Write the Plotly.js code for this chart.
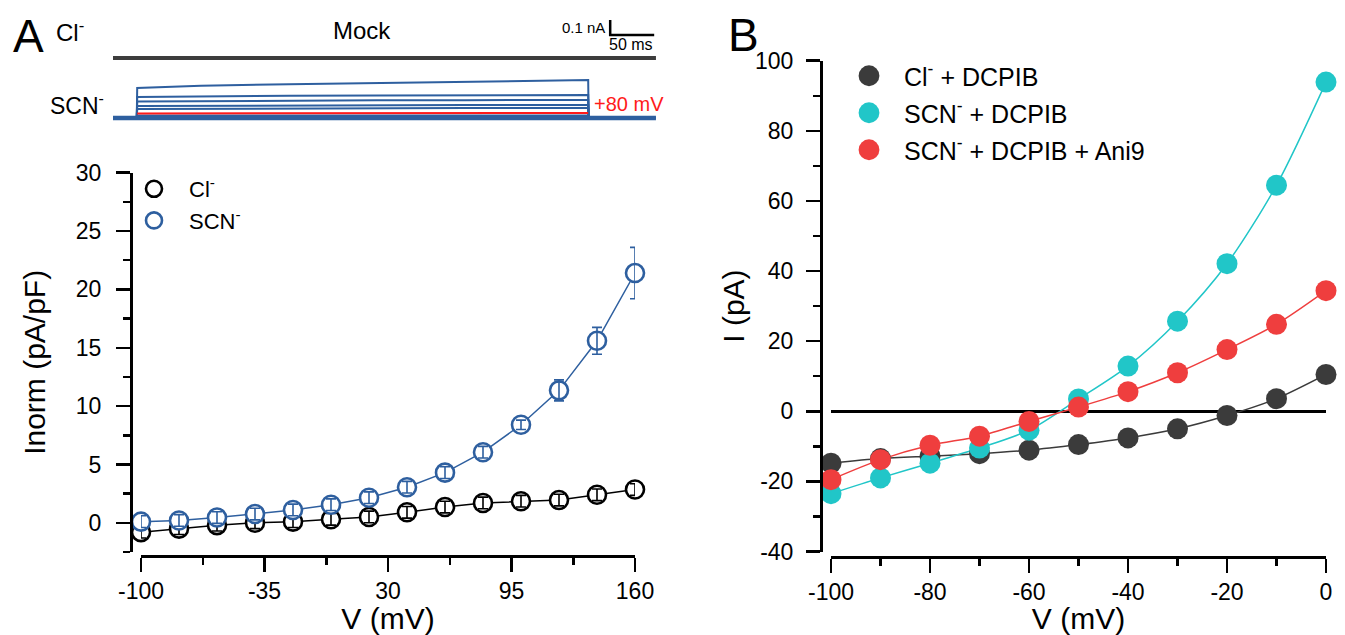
<!DOCTYPE html>
<html>
<head>
<meta charset="utf-8">
<script src="https://cdn.plot.ly/plotly-3.0.1.min.js"></script>
<style>html,body{margin:0;padding:0;background:#fff;}#chart{width:1345px;height:635px;}</style>
</head>
<body>
<div id="chart"></div>
<script>
// ---------- Panel A: I-V (normalized) ----------
const aVoltage = [-100, -80, -60, -40, -20, 0, 20, 40, 60, 80, 100, 120, 140, 160];
const aCl      = [-0.8, -0.5, -0.2, 0.0, 0.1, 0.3, 0.5, 0.9, 1.35, 1.7, 1.85, 1.95, 2.4, 2.85];
const aClErr   = [0.5, 0.5, 0.5, 0.5, 0.5, 0.5, 0.5, 0.5, 0.5, 0.5, 0.5, 0.5, 0.5, 0.5];
const aSCN     = [0.1, 0.2, 0.45, 0.75, 1.1, 1.55, 2.15, 3.05, 4.3, 6.05, 8.4, 11.35, 15.6, 21.4];
const aSCNErr  = [0.5, 0.5, 0.5, 0.5, 0.5, 0.5, 0.5, 0.5, 0.5, 0.5, 0.4, 0.9, 1.15, 2.2];
const aXTickVals = [-100, -35, 30, 95, 160];
const aXTickText = ['-100', '-35', '30', '95', '160'];
const aYTickVals = [0, 5, 10, 15, 20, 25, 30];
const aYTickText = ['0', '5', '10', '15', '20', '25', '30'];

// ---------- Panel B: I-V (pA) ----------
const bVoltage  = [-100, -90, -80, -70, -60, -50, -40, -30, -20, -10, 0];
const bClDCPIB  = [-14.8, -13.5, -12.8, -12.1, -11.1, -9.5, -7.6, -5.0, -1.2, 3.6, 10.5];
const bSCNDCPIB = [-23.5, -19.0, -14.8, -10.5, -5.4, 3.5, 12.9, 25.7, 42.1, 64.5, 93.9];
const bSCNAni9  = [-19.5, -13.8, -9.7, -7.1, -2.9, 1.2, 5.6, 11.0, 17.6, 24.8, 34.4];
const bXTickVals = [-100, -80, -60, -40, -20, 0];
const bXTickText = ['-100', '-80', '-60', '-40', '-20', '0'];
const bYTickVals = [-40, -20, 0, 20, 40, 60, 80, 100];
const bYTickText = ['-40', '-20', '0', '20', '40', '60', '80', '100'];

// ---------- Current traces (ms, nA) ----------
const traceTime = [0, 27, 27.5, 100, 200, 300, 400, 500, 540, 540.5, 617];
const mockTime = [0, 617];
const mockCl = [0, 0];
const scnTraces = [
  [0, 0, 0.200, 0.215, 0.225, 0.233, 0.242, 0.250, 0.253, 0, 0],
  [0, 0, 0.140, 0.145, 0.148, 0.150, 0.152, 0.153, 0.153, 0, 0],
  [0, 0, 0.110, 0.113, 0.116, 0.118, 0.119, 0.120, 0.120, 0, 0],
  [0, 0, 0.080, 0.082, 0.084, 0.085, 0.086, 0.087, 0.087, 0, 0],
  [0, 0, 0.060, 0.062, 0.064, 0.065, 0.066, 0.067, 0.067, 0, 0],
  [0, 0, 0.017, 0.017, 0.017, 0.017, 0.017, 0.017, 0.017, 0, 0],
  [0, 0, 0.007, 0.007, 0.007, 0.007, 0.007, 0.007, 0.007, 0, 0]
];
const scnBaseline = [0, 0, 0, 0, 0, 0, 0, 0, 0, 0, 0];
const scn80Time = [27.5, 100, 200, 300, 400, 500, 540];
const scn80mV   = [0.030, 0.031, 0.032, 0.033, 0.033, 0.034, 0.034];
const scaleBarT = [565, 565, 615];          // 50 ms horizontal
const scaleBarI = [0.2533, 0.1533, 0.1533]; // 0.1 nA vertical

const W = 1345, H = 635;
const px = v => v / W;
const py = v => 1 - v / H;

const BLUE = '#2e5f9f', BLACK = '#000000', DARK = '#3b3b3b', CYAN = '#21c6c8', RED = '#ef3e3e';
const FONT = 'Liberation Sans, Arial, sans-serif';

const data = [];

// Top traces
data.push({x: mockTime, y: mockCl, xaxis: 'x3', yaxis: 'y3', mode: 'lines',
  line: {color: '#3d3d3d', width: 4}, showlegend: false, hoverinfo: 'skip'});
scnTraces.forEach(tr => data.push({x: traceTime, y: tr, xaxis: 'x4', yaxis: 'y4', mode: 'lines',
  line: {color: BLUE, width: 2}, showlegend: false, hoverinfo: 'skip'}));
data.push({x: traceTime, y: scnBaseline, xaxis: 'x4', yaxis: 'y4', mode: 'lines',
  line: {color: BLUE, width: 4.5}, showlegend: false, hoverinfo: 'skip'});
data.push({x: scn80Time, y: scn80mV, xaxis: 'x4', yaxis: 'y4', mode: 'lines',
  line: {color: '#ff1a1a', width: 2}, showlegend: false, hoverinfo: 'skip'});
data.push({x: scaleBarT, y: scaleBarI, xaxis: 'x3', yaxis: 'y3', mode: 'lines',
  line: {color: BLACK, width: 2.5}, showlegend: false, hoverinfo: 'skip'});

// Panel A
[[aCl, aClErr, BLACK, 'Cl<sup>-</sup>', 'gA1'], [aSCN, aSCNErr, BLUE, 'SCN<sup>-</sup>', 'gA2']].forEach(([ys, es, c, name, g]) => {
  data.push({x: aVoltage, y: ys, xaxis: 'x', yaxis: 'y', mode: 'lines', line: {color: c, width: 1.5},
    showlegend: false, cliponaxis: false});
  data.push({x: aVoltage, y: ys, xaxis: 'x', yaxis: 'y', mode: 'markers', name: name, legend: 'legend', legendgroup: g,
    marker: {symbol: 'circle', size: 18, color: '#ffffff', line: {color: c, width: 2.6}}, cliponaxis: false});
  data.push({x: aVoltage, y: ys, xaxis: 'x', yaxis: 'y', mode: 'markers', showlegend: false,
    marker: {size: 1, color: 'rgba(0,0,0,0)'}, cliponaxis: false,
    error_y: {type: 'data', array: es, visible: true, color: c, thickness: 1.6, width: 5}});
});

// Panel B
const bSeries = [[bClDCPIB, DARK, 'Cl<sup>-</sup> + DCPIB', 'gB1'], [bSCNDCPIB, CYAN, 'SCN<sup>-</sup> + DCPIB', 'gB2'],
 [bSCNAni9, RED, 'SCN<sup>-</sup> + DCPIB + Ani9', 'gB3']];
bSeries.forEach(([ys, c]) => {
  data.push({x: bVoltage, y: ys, xaxis: 'x2', yaxis: 'y2', mode: 'lines',
    line: {color: c, width: 1.5, shape: 'spline', smoothing: 0.8}, showlegend: false, cliponaxis: false});
});
bSeries.forEach(([ys, c, name, g]) => {
  data.push({x: bVoltage, y: ys, xaxis: 'x2', yaxis: 'y2', mode: 'markers', name: name, legend: 'legend2', legendgroup: g,
    marker: {symbol: 'circle', size: 21, color: c}, cliponaxis: false});
});

const axisCommon = {
  showline: true, linecolor: BLACK, linewidth: 2.5, ticks: 'outside', ticklen: 14, tickwidth: 2.5,
  tickcolor: BLACK, showgrid: false, zeroline: false, tickfont: {family: FONT, size: 23, color: BLACK},
  anchor: 'free', tickmode: 'array'
};
const minorCommon = {ticks: 'outside', ticklen: 7, tickwidth: 2.5, tickcolor: BLACK, tickmode: 'linear'};
const titleFont = {family: FONT, size: 30, color: BLACK};
const hiddenAxis = {visible: false, showgrid: false, zeroline: false, fixedrange: true};

const layout = {
  width: W, height: H, margin: {l: 0, r: 0, t: 0, b: 0}, paper_bgcolor: '#fff', plot_bgcolor: 'rgba(0,0,0,0)',
  font: {family: FONT, color: BLACK},
  xaxis: Object.assign({}, axisCommon, {
    domain: [px(141), px(635)], range: [-100, 160], position: py(556),
    tickvals: aXTickVals, ticktext: aXTickText,
    minor: Object.assign({}, minorCommon, {tick0: -100, dtick: 32.5}),
    title: {text: 'V (mV)', font: titleFont, standoff: 0}
  }),
  yaxis: Object.assign({}, axisCommon, {
    domain: [py(552), py(172.7)], range: [-2.5, 30], position: px(131), ticklabelstandoff: 10,
    tickvals: aYTickVals, ticktext: aYTickText,
    minor: Object.assign({}, minorCommon, {tick0: 0, dtick: 2.5}),
    title: {text: '\u00a0\u00a0\u00a0Inorm (pA/pF)', font: titleFont, standoff: 20}
  }),
  xaxis2: Object.assign({}, axisCommon, {
    domain: [px(831), px(1326)], range: [-100, 0], position: py(557),
    tickvals: bXTickVals, ticktext: bXTickText,
    minor: Object.assign({}, minorCommon, {tick0: -100, dtick: 10}),
    title: {text: 'V (mV)', font: titleFont, standoff: 0}
  }),
  yaxis2: Object.assign({}, axisCommon, {
    domain: [py(551.5), py(60.7)], range: [-40, 100], position: px(821), ticklabelstandoff: 8,
    tickvals: bYTickVals, ticktext: bYTickText,
    zeroline: true, zerolinecolor: BLACK, zerolinewidth: 2.6,
    minor: Object.assign({}, minorCommon, {tick0: 0, dtick: 10}),
    title: {text: 'I (pA)', font: titleFont, standoff: 0}
  }),
  xaxis3: Object.assign({}, hiddenAxis, {domain: [px(113), px(660)], range: [0, 621.6], anchor: 'y3'}),
  yaxis3: Object.assign({}, hiddenAxis, {domain: [py(70), py(12)], range: [-0.08, 0.3067], anchor: 'x3'}),
  xaxis4: Object.assign({}, hiddenAxis, {domain: [px(113), px(660)], range: [0, 621.6], anchor: 'y4'}),
  yaxis4: Object.assign({}, hiddenAxis, {domain: [py(125), py(70)], range: [-0.0467, 0.32], anchor: 'x4'}),
  legend: {x: px(119), y: py(168), xanchor: 'left', yanchor: 'top', bgcolor: 'rgba(0,0,0,0)',
    font: {family: FONT, size: 22, color: BLACK}, itemsizing: 'trace', tracegroupgap: 0, itemwidth: 60},
  legend2: {x: px(834), y: py(53), xanchor: 'left', yanchor: 'top', bgcolor: 'rgba(0,0,0,0)',
    font: {family: FONT, size: 25, color: BLACK}, itemsizing: 'trace', tracegroupgap: 1.5, itemwidth: 60},
  annotations: [
    {text: 'A', x: px(29), y: py(36), xanchor: 'center', yanchor: 'middle', xref: 'paper', yref: 'paper', showarrow: false, font: {family: FONT, size: 46}},
    {text: 'B', x: px(743), y: py(35), xanchor: 'center', yanchor: 'middle', xref: 'paper', yref: 'paper', showarrow: false, font: {family: FONT, size: 46}},
    {text: 'Cl<sup>-</sup>', x: px(70), y: py(31), xanchor: 'center', yanchor: 'middle', xref: 'paper', yref: 'paper', showarrow: false, font: {family: FONT, size: 24}},
    {text: 'Mock', x: px(362), y: py(31), xanchor: 'center', yanchor: 'middle', xref: 'paper', yref: 'paper', showarrow: false, font: {family: FONT, size: 24}},
    {text: 'SCN<sup>-</sup>', x: px(77), y: py(104), xanchor: 'center', yanchor: 'middle', xref: 'paper', yref: 'paper', showarrow: false, font: {family: FONT, size: 23}},
    {text: '+80 mV', x: px(629), y: py(104), xanchor: 'center', yanchor: 'middle', xref: 'paper', yref: 'paper', showarrow: false, font: {family: FONT, size: 20, color: '#ff1a1a'}},
    {text: '0.1 nA', x: px(583), y: py(27), xanchor: 'center', yanchor: 'middle', xref: 'paper', yref: 'paper', showarrow: false, font: {family: FONT, size: 15}},
    {text: '50 ms', x: px(631), y: py(44), xanchor: 'center', yanchor: 'middle', xref: 'paper', yref: 'paper', showarrow: false, font: {family: FONT, size: 16}}
  ]
};

Plotly.newPlot('chart', data, layout, {displayModeBar: false, staticPlot: true}).then(gd => {
  // enlarge legend-2 symbols to match the filled dots of panel B
  gd.querySelectorAll('.legend2 .legendpoints path.scatterpts').forEach(p => {
    const t = p.getAttribute('transform') || '';
    p.setAttribute('transform', t + ' scale(1.3)');
  });
});
</script>
</body>
</html>
